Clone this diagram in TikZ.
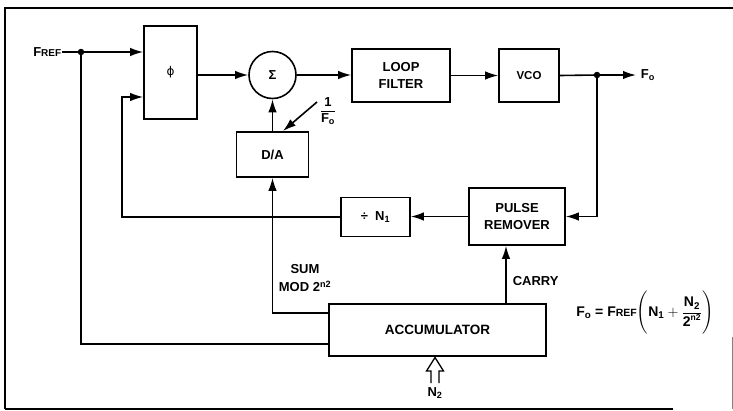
\documentclass[tikz,border=0pt]{standalone}
\usepackage{amsmath}
\usepackage{fontspec}
\setmainfont{Liberation Sans}
\newfontfamily\dejavu{DejaVu Sans}
\usetikzlibrary{arrows.meta,calc}
\begin{document}
\begin{tikzpicture}[x=1pt,y=-1pt,line width=1.6pt,
  blk/.style={draw,rectangle,inner sep=0pt,align=center,font=\fontsize{13}{17}\selectfont\bfseries},
  arr/.style={-{Latex[length=13pt,width=8.5pt]}},
  lbl/.style={font=\fontsize{13}{18}\selectfont\bfseries,inner sep=0pt,align=center},
  small/.style={font=\fontsize{13}{15}\selectfont\bfseries,inner sep=0pt},
  jdot/.style={circle,fill,inner sep=0pt,minimum size=6.5pt}]
\useasboundingbox (0,0) rectangle (733,410);
% frame
\draw (5,409) -- (5,8) -- (733,8);
\draw (5,409) -- (673,409);
\draw[gray,line width=0.8pt] (732,337) -- (732,409);
% blocks
\node[blk,minimum width=53pt,minimum height=93pt,font=\dejavu\fontsize{12}{14}\selectfont] (phi) at (170.5,72.5) {ϕ};
\node[draw,circle,minimum size=47pt,inner sep=0pt,font=\fontsize{13}{15}\selectfont\bfseries] (sigma) at (272.5,75) {Σ};
\node[blk,minimum width=98pt,minimum height=53pt] (loop) at (401,75.5) {LOOP\\FILTER};
\node[blk,minimum width=72pt,minimum height=45pt] (dac) at (272.5,154.5) {D/A};
\node[blk,minimum width=60pt,minimum height=53pt,font=\fontsize{11.5}{13}\selectfont\bfseries] (vco) at (529,75.5) {VCO};
\node[blk,minimum width=96pt,minimum height=57pt] (pulse) at (517,216.5) {PULSE\\REMOVER};
\node[blk,minimum width=69pt,minimum height=39pt,font=\fontsize{13}{15}\selectfont\bfseries] (divn) at (375.5,217) {÷\; N\textsubscript{1}};
\node[blk,minimum width=217pt,minimum height=52pt,font=\fontsize{13.5}{16}\selectfont\bfseries] (acc) at (437.5,330) {ACCUMULATOR};
% labels
\node[small,anchor=east] (fref) at (62,52) {F{\fontsize{10}{11}\selectfont REF}};
\node[small,anchor=west] (fo) at (640,75) {F\textsubscript{o}};
\node[small] (inv) at (328,111) {$\dfrac{\mbox{1}}{\mbox{F\textsubscript{o}}}$};
\node[lbl] (sum) at (305,278) {SUM\\MOD 2\textsuperscript{n2}};
\node[lbl,anchor=west] (carry) at (512,281) {CARRY};
\node[small] (n2) at (435,393) {N\textsubscript{2}};
\node[font=\fontsize{14}{16}\selectfont\bfseries,inner sep=0pt] (formula) at (645,313) {F\textsubscript{o} = F{\fontsize{10.5}{12}\selectfont REF}$\Biggl(\mbox{N\textsubscript{1}} + \dfrac{\mbox{N\textsubscript{2}}}{\mbox{2}^{\mbox{\fontsize{8.5}{9}\selectfont n2}}}\Biggr)$};
% coordinates
\node[jdot] (dot1) at (81,52) {};
\node[jdot] (dot2) at (597,75) {};
\coordinate (lowc) at (81,344);
\coordinate (fb2) at (122,97);
\coordinate (sumc) at (272.5,313);
\coordinate (foend) at (636,75);
\coordinate (invA) at (317,102);
\coordinate (invB) at (283,131);
\coordinate (carryB) at (506,304);
% connectors
\draw[arr] (fref.east) -- (dot1.center) -- (phi.west |- dot1);
\draw (dot1.center) -- (lowc) -- (acc.west |- lowc);
\draw[arr] (sigma.west -| phi.east) -- (sigma.west);
\draw[arr] (sigma.east) -- (loop.west |- sigma.east);
\draw[arr] (loop.east) -- (vco.west);
\draw[arr] (vco.east) -- (dot2.center) -- (foend);
\draw[arr] (dot2.center) |- (pulse.east);
\draw[arr] (pulse.west) -- (divn.east |- pulse.west);
\draw[arr] (divn.west) -| (fb2) -- (phi.west |- fb2);
\draw[arr] (acc.west |- sumc) -- (sumc) -- (dac.south);
\draw[arr] (dac.north) -- (sigma.south);
\draw[arr] (invA) -- (invB);
\draw[arr] (carryB) -- (pulse.south -| carryB);
% N2 hollow arrow
\draw[line width=1.3pt,line join=miter,fill=white] (431,383) -- (431,371) -- (426.5,371) -- (435,357.5) -- (443.5,371) -- (439,371) -- (439,383);
\end{tikzpicture}
\end{document}
